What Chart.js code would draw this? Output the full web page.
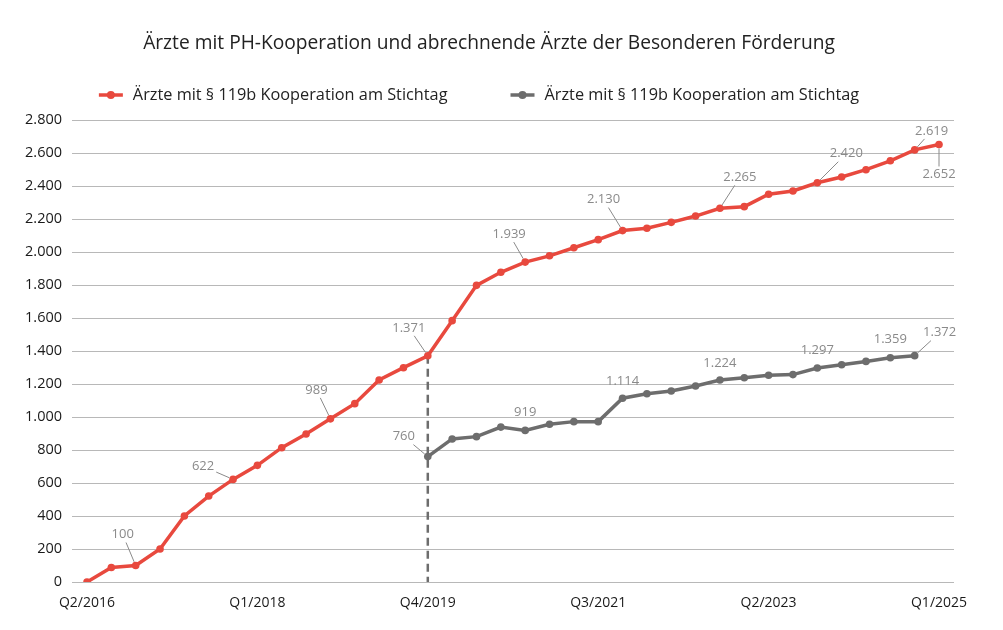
<!DOCTYPE html>
<html lang="de">
<head>
<meta charset="utf-8">
<title>Ärzte mit PH-Kooperation</title>
<script src="https://cdn.jsdelivr.net/npm/chart.js@4.4.1/dist/chart.umd.min.js"></script>
<style>
  html, body { margin: 0; padding: 0; background: #fff; }
  #wrap { width: 1003px; height: 630px; }
</style>
</head>
<body>
<div id="wrap"><canvas id="chart" width="1003" height="630"></canvas></div>
<script>
// Quartale (x-Achse)
const quarters = [
  'Q2/2016', 'Q3/2016', 'Q4/2016',
  'Q1/2017', 'Q2/2017', 'Q3/2017', 'Q4/2017',
  'Q1/2018', 'Q2/2018', 'Q3/2018', 'Q4/2018',
  'Q1/2019', 'Q2/2019', 'Q3/2019', 'Q4/2019',
  'Q1/2020', 'Q2/2020', 'Q3/2020', 'Q4/2020',
  'Q1/2021', 'Q2/2021', 'Q3/2021', 'Q4/2021',
  'Q1/2022', 'Q2/2022', 'Q3/2022', 'Q4/2022',
  'Q1/2023', 'Q2/2023', 'Q3/2023', 'Q4/2023',
  'Q1/2024', 'Q2/2024', 'Q3/2024', 'Q4/2024',
  'Q1/2025'
];
// beschriftete Quartale
const tickIndex = [0, 7, 14, 21, 28, 35];

const seriesNames = [
  'Ärzte mit § 119b Kooperation am Stichtag',
  'Ärzte mit § 119b Kooperation am Stichtag'
];

// rote Linie
const redValues = [
  0, 88, 100, 200, 400, 521, 622, 707, 814, 897, 989, 1081,
  1224, 1299, 1371, 1584, 1798, 1877, 1939, 1977, 2026, 2075, 2130, 2144,
  2180, 2218, 2265, 2275, 2350, 2370, 2420, 2455, 2499, 2553, 2619, 2652
];
// graue Linie (beginnt Q4/2019)
const grayValues = [
  null, null, null, null, null, null, null, null, null, null, null, null,
  null, null, 760, 867, 881, 939, 919, 956, 972, 972, 1114, 1141,
  1158, 1188, 1224, 1238, 1253, 1257, 1297, 1317, 1337, 1359, 1372, null
];

// welche Punkte eine Zahl bekommen
const redLabelIdx = [2, 6, 10, 14, 18, 22, 26, 30, 34, 35];
const grayLabelIdx = [14, 18, 22, 26, 30, 33, 34];

const colors = ['#e8493e', '#6d6d6d'];

// Lage der Zahlen relativ zum Punkt (dx, dy, Hinweislinie)
const labelPlacement = [
  {
    2: [-13, -31, true], 6: [-30, -13, true], 10: [-14, -29, true],
    14: [-19, -28, true], 18: [-16, -28, true], 22: [-19, -31, true],
    26: [20, -31, true], 30: [29, -29, true], 34: [17, -19, true],
    35: [0, 30, true]
  },
  {
    14: [-24, -20, true], 18: [0, -18, false], 22: [0, -17, false],
    26: [0, -17, false], 30: [0, -18, false], 33: [0, -18, false],
    34: [25, -23, true]
  }
];

function fmt(v) {
  return String(v).replace(/\B(?=(\d{3})+(?!\d))/g, '.');
}

function toPoints(values) {
  return values.map((v, i) => ({ x: i, y: v }));
}

// Zahlen an den Punkten
const pointLabels = {
  id: 'pointLabels',
  afterDatasetsDraw(chart) {
    const ctx = chart.ctx;
    const idxLists = [redLabelIdx, grayLabelIdx];
    ctx.save();
    ctx.font = '13px "Open Sans"';
    ctx.textAlign = 'center';
    ctx.textBaseline = 'middle';
    chart.data.datasets.forEach((ds, di) => {
      const meta = chart.getDatasetMeta(di);
      idxLists[di].forEach(i => {
        const el = meta.data[i];
        const p = labelPlacement[di][i];
        const txt = fmt(ds.data[i].y);
        const lx = el.x + p[0];
        const ly = el.y + p[1];
        ctx.fillStyle = '#8a8a8a';
        ctx.fillText(txt, lx, ly);
        if (p[2]) {
          const hw = ctx.measureText(txt).width / 2 + 2;
          const hh = 8;
          const vx = el.x - lx, vy = el.y - ly;
          const len = Math.hypot(vx, vy);
          const t = Math.min(vx ? hw / Math.abs(vx) : 99, vy ? hh / Math.abs(vy) : 99);
          ctx.strokeStyle = '#8a8a8a';
          ctx.lineWidth = 1;
          ctx.beginPath();
          ctx.moveTo(lx + vx * t, ly + vy * t);
          ctx.lineTo(el.x - vx / len * 4, el.y - vy / len * 4);
          ctx.stroke();
        }
      });
    });
    ctx.restore();
  }
};

// gestrichelte Linie beim Start der grauen Reihe
const startLine = {
  id: 'startLine',
  beforeDatasetsDraw(chart) {
    const i = grayValues.findIndex(v => v !== null);
    const el = chart.getDatasetMeta(0).data[i];
    const yBottom = chart.scales.y.getPixelForValue(0);
    const ctx = chart.ctx;
    ctx.save();
    ctx.strokeStyle = '#6d6d6d';
    ctx.lineWidth = 2.5;
    ctx.setLineDash([8, 5]);
    ctx.beginPath();
    ctx.moveTo(el.x, el.y);
    ctx.lineTo(el.x, yBottom);
    ctx.stroke();
    ctx.restore();
  }
};

// Legende (Linie mit Punkt + Text)
const lineLegend = {
  id: 'lineLegend',
  afterDraw(chart) {
    const ctx = chart.ctx;
    const center = 479, y = 95, gap = 63, mark = 24, textGap = 10;
    ctx.save();
    ctx.font = '16.3px "Open Sans"';
    ctx.textBaseline = 'middle';
    ctx.textAlign = 'left';
    const widths = chart.data.datasets.map(ds => mark + textGap + ctx.measureText(ds.label).width);
    let x = center - (widths.reduce((a, b) => a + b, 0) + gap * (widths.length - 1)) / 2;
    chart.data.datasets.forEach((ds, di) => {
      ctx.strokeStyle = ds.borderColor;
      ctx.lineWidth = 3.5;
      ctx.beginPath();
      ctx.moveTo(x, y);
      ctx.lineTo(x + mark, y);
      ctx.stroke();
      ctx.fillStyle = ds.borderColor;
      ctx.beginPath();
      ctx.arc(x + mark / 2, y, 4, 0, Math.PI * 2);
      ctx.fill();
      ctx.fillStyle = '#222';
      ctx.fillText(ds.label, x + mark + textGap, y);
      x += widths[di] + gap;
    });
    ctx.restore();
  }
};

const chart = new Chart(document.getElementById('chart'), {
  type: 'line',
  data: {
    datasets: [
      {
        label: seriesNames[0],
        data: toPoints(redValues),
        borderColor: colors[0],
        backgroundColor: colors[0],
        borderWidth: 3.5,
        pointRadius: 3.8,
        pointBorderWidth: 0,
        tension: 0
      },
      {
        label: seriesNames[1],
        data: toPoints(grayValues),
        borderColor: colors[1],
        backgroundColor: colors[1],
        borderWidth: 3.5,
        pointRadius: 3.8,
        pointBorderWidth: 0,
        tension: 0
      }
    ]
  },
  options: {
    responsive: false,
    animation: false,
    events: [],
    layout: { padding: { top: 0, left: 24, right: 49, bottom: 18 } },
    plugins: {
      legend: { display: false },
      tooltip: { enabled: false },
      title: {
        display: true,
        text: 'Ärzte mit PH-Kooperation und abrechnende Ärzte der Besonderen Förderung',
        color: '#222',
        font: { family: '"Open Sans"', size: 19.2, weight: 'normal' },
        padding: { top: 32, bottom: 65 }
      }
    },
    scales: {
      x: {
        type: 'linear',
        min: -0.616,
        max: 35.616,
        afterBuildTicks: s => { s.ticks = tickIndex.map(v => ({ value: v })); },
        afterFit: s => { s.height = 30; },
        grid: { display: false, drawTicks: false },
        border: { display: false },
        ticks: {
          autoSkip: false,
          maxRotation: 0,
          padding: 13,
          color: '#1a1a1a',
          font: { family: '"Open Sans"', size: 14 },
          callback: v => quarters[v]
        }
      },
      y: {
        min: 0,
        max: 2800,
        afterFit: s => { s.width = 48; },
        grid: { color: '#b8b8b8', lineWidth: 1, drawTicks: false },
        border: { display: false },
        ticks: {
          stepSize: 200,
          padding: 10,
          color: '#1a1a1a',
          font: { family: '"Open Sans"', size: 14.5 },
          callback: v => fmt(v)
        }
      }
    }
  },
  plugins: [startLine, pointLabels, lineLegend]
});
</script>
</body>
</html>
